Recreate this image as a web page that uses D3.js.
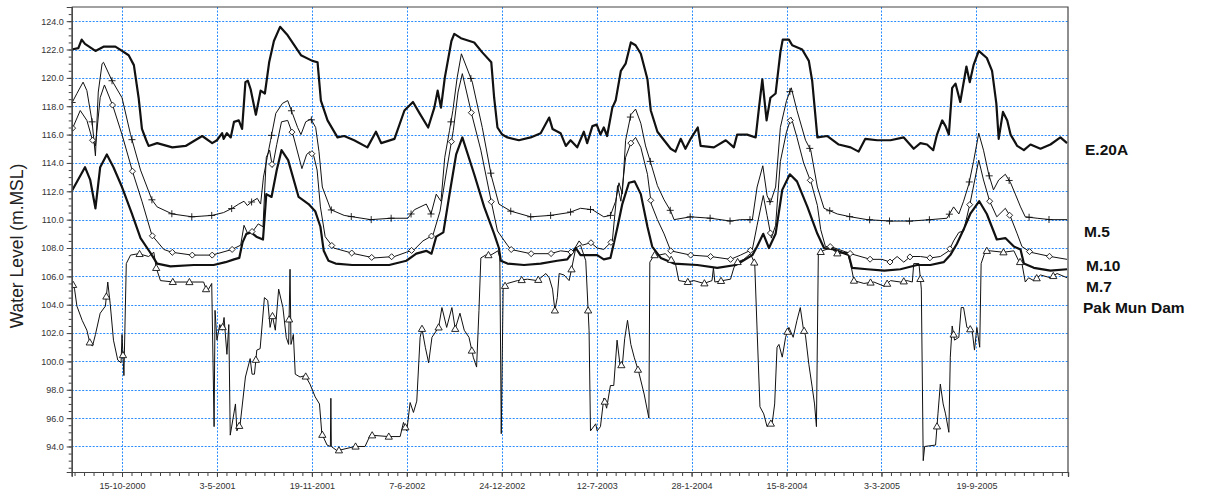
<!DOCTYPE html>
<html lang="en">
<head>
<meta charset="UTF-8">
<title>Water Level</title>
<style>
  body { margin: 0; background: #fff; }
  svg { display: block; }
  text { font-family: Arial, "Liberation Sans", Helvetica, sans-serif; }
</style>
</head>
<body>
<div id="chart"></div>
<script src="https://d3js.org/d3.v7.min.js"></script>
<script>
// ---- data ----
const xTickDates = ["2000-10-15", "2001-05-03", "2001-11-19", "2002-06-07", "2002-12-24",
  "2003-07-12", "2004-01-28", "2004-08-15", "2005-03-03", "2005-09-19"];
const yTickValues = [94, 96, 98, 100, 102, 104, 106, 108, 110, 112, 114, 116, 118, 120, 122, 124];
const stationNames = ["E.20A", "M.5", "M.10", "M.7", "Pak Mun Dam"];

const e20a = [
["2000-07-01",122.0],["2000-07-15",122.1],["2000-07-22",122.7],["2000-07-29",122.4],["2000-08-20",121.9],
["2000-09-06",122.2],["2000-10-01",122.2],["2000-10-15",121.9],["2000-10-29",121.6],["2000-11-09",120.9],
["2000-11-19",118.6],["2000-11-26",116.4],["2000-12-05",115.6],["2000-12-10",115.2],["2000-12-28",115.4],
["2001-01-29",115.1],["2001-02-26",115.2],["2001-04-02",115.9],["2001-04-23",115.4],["2001-05-03",115.6],
["2001-05-14",116.1],["2001-05-17",115.7],["2001-05-24",116.1],["2001-06-01",115.8],["2001-06-08",116.9],
["2001-06-18",117.0],["2001-06-25",116.4],["2001-07-02",119.7],["2001-07-07",119.8],["2001-07-13",119.2],
["2001-07-24",117.4],["2001-08-03",119.1],["2001-08-12",118.9],["2001-08-21",121.1],["2001-08-31",122.6],
["2001-09-13",123.6],["2001-09-29",123.0],["2001-10-27",121.6],["2001-11-20",121.2],["2001-12-01",121.1],
["2001-12-08",118.4],["2001-12-22",117.0],["2002-01-12",115.8],["2002-01-26",115.9],["2002-02-16",115.6],
["2002-03-16",115.1],["2002-04-03",116.2],["2002-04-14",115.4],["2002-05-12",115.7],["2002-06-02",117.7],
["2002-06-20",118.3],["2002-07-04",117.5],["2002-07-22",116.5],["2002-08-04",117.9],["2002-08-11",119.1],
["2002-08-18",117.9],["2002-08-26",120.0],["2002-09-09",122.6],["2002-09-15",123.1],["2002-09-29",122.8],
["2002-10-27",122.5],["2002-11-13",121.8],["2002-12-02",121.1],["2002-12-08",118.6],["2002-12-15",116.5],
["2002-12-25",116.0],["2003-01-05",115.8],["2003-01-29",115.6],["2003-02-23",115.8],["2003-03-16",116.1],
["2003-04-03",117.2],["2003-04-10",116.4],["2003-04-27",116.1],["2003-05-08",115.2],["2003-05-18",115.6],
["2003-06-01",115.1],["2003-06-15",116.2],["2003-06-22",115.4],["2003-07-03",116.6],["2003-07-12",116.7],
["2003-07-20",116.0],["2003-07-27",116.5],["2003-08-03",115.9],["2003-08-14",117.9],["2003-08-21",118.4],
["2003-09-01",120.5],["2003-09-11",121.0],["2003-09-22",122.5],["2003-10-02",122.3],["2003-10-13",121.7],
["2003-10-27",119.9],["2003-11-03",117.7],["2003-11-17",116.2],["2003-12-01",115.6],["2003-12-15",115.0],
["2003-12-25",114.8],["2004-01-05",115.7],["2004-01-15",115.0],["2004-01-26",115.7],["2004-02-10",116.5],
["2004-02-16",115.2],["2004-03-15",115.1],["2004-04-09",115.6],["2004-04-26",115.1],["2004-05-03",116.0],
["2004-05-24",116.0],["2004-06-11",115.8],["2004-06-18",117.9],["2004-06-25",119.9],["2004-07-04",117.0],
["2004-07-12",118.6],["2004-07-23",118.9],["2004-08-02",121.8],["2004-08-07",122.7],["2004-08-20",122.7],
["2004-08-27",122.3],["2004-09-17",122.0],["2004-10-01",121.2],["2004-10-08",119.8],["2004-10-19",115.8],
["2004-11-09",115.9],["2004-12-03",115.3],["2004-12-28",115.1],["2005-01-14",114.8],["2005-01-28",115.7],
["2005-02-22",115.6],["2005-03-22",115.6],["2005-04-19",115.8],["2005-05-10",115.0],["2005-05-24",115.4],
["2005-06-07",115.3],["2005-06-20",114.9],["2005-06-28",116.0],["2005-07-09",117.0],["2005-07-16",116.6],
["2005-07-23",116.0],["2005-07-30",119.3],["2005-08-06",119.6],["2005-08-16",118.3],["2005-08-29",120.8],
["2005-09-05",119.7],["2005-09-13",120.9],["2005-09-24",121.9],["2005-10-11",121.4],["2005-10-22",120.5],
["2005-10-31",118.2],["2005-11-05",115.7],["2005-11-14",117.6],["2005-11-23",117.0],["2005-11-30",116.0],
["2005-12-14",115.2],["2005-12-28",114.9],["2006-01-11",115.3],["2006-02-01",115.0],["2006-02-22",115.3],
["2006-03-15",115.8],["2006-03-29",115.4]
];

const m5 = [
["2000-07-01",118.2],["2000-07-12",118.9],["2000-07-25",119.7],["2000-08-02",119.1],["2000-08-13",116.9],
["2000-08-20",114.5],["2000-08-26",119.0],["2000-09-03",121.0],["2000-09-06",121.1],["2000-09-24",119.8],
["2000-10-15",118.6],["2000-11-02",116.0],["2000-11-23",113.5],["2000-12-17",111.4],["2000-12-28",110.9],
["2001-01-29",110.4],["2001-03-12",110.2],["2001-04-23",110.3],["2001-05-17",110.5],["2001-06-04",110.8],
["2001-06-18",111.1],["2001-06-29",111.3],["2001-07-06",111.0],["2001-07-17",111.3],["2001-07-27",111.5],
["2001-08-03",111.1],["2001-08-09",113.0],["2001-08-17",114.4],["2001-08-24",115.6],["2001-09-04",117.5],
["2001-09-18",118.2],["2001-09-29",118.4],["2001-10-09",117.5],["2001-10-20",116.5],["2001-10-27",116.0],
["2001-11-06",116.9],["2001-11-17",117.1],["2001-11-27",116.5],["2001-12-04",114.8],["2001-12-11",112.3],
["2001-12-29",110.7],["2002-01-26",110.3],["2002-02-13",110.2],["2002-03-23",110.0],["2002-05-05",110.1],
["2002-06-09",110.1],["2002-06-23",110.7],["2002-07-18",111.1],["2002-07-28",110.4],["2002-08-08",111.8],
["2002-08-18",111.3],["2002-08-26",114.4],["2002-09-05",116.3],["2002-09-12",117.7],["2002-09-21",120.0],
["2002-09-30",121.7],["2002-10-23",119.7],["2002-11-13",116.5],["2002-12-02",113.1],["2002-12-18",111.1],
["2003-01-12",110.6],["2003-02-23",110.2],["2003-04-06",110.3],["2003-05-15",110.5],["2003-06-08",110.8],
["2003-07-03",110.7],["2003-07-27",110.2],["2003-08-10",110.3],["2003-08-21",111.3],["2003-08-28",112.6],
["2003-09-04",111.8],["2003-09-11",115.6],["2003-09-22",117.4],["2003-10-02",117.8],["2003-10-13",116.8],
["2003-10-23",115.2],["2003-11-03",114.0],["2003-11-17",112.4],["2003-12-01",111.4],["2003-12-15",110.6],
["2003-12-22",110.0],["2004-01-26",110.2],["2004-03-08",110.1],["2004-04-19",109.9],["2004-05-10",110.0],
["2004-06-04",110.0],["2004-06-14",112.3],["2004-06-26",113.8],["2004-07-05",111.7],["2004-07-12",111.2],
["2004-07-23",112.3],["2004-08-02",116.5],["2004-08-15",118.4],["2004-08-25",119.3],["2004-09-06",117.7],
["2004-09-24",115.6],["2004-10-05",114.9],["2004-10-19",112.3],["2004-11-02",110.8],["2004-11-30",110.4],
["2004-12-28",110.2],["2005-02-01",110.0],["2005-03-22",109.9],["2005-05-03",109.9],["2005-06-14",110.0],
["2005-07-19",110.1],["2005-08-02",110.9],["2005-08-13",110.4],["2005-08-23",111.3],["2005-09-03",112.5],
["2005-09-13",114.1],["2005-09-24",116.1],["2005-10-04",114.9],["2005-10-15",113.2],["2005-10-25",112.1],
["2005-11-05",112.8],["2005-11-19",113.2],["2005-11-30",112.6],["2005-12-10",111.8],["2005-12-21",110.9],
["2005-12-31",110.2],["2006-01-25",110.1],["2006-02-22",110.0],["2006-03-29",110.0]
];

const m10 = [
["2000-07-01",116.3],["2000-07-19",117.7],["2000-08-02",117.0],["2000-08-14",115.6],["2000-08-20",115.2],
["2000-08-30",118.6],["2000-09-08",119.5],["2000-09-26",118.0],["2000-10-15",116.0],["2000-11-07",113.3],
["2000-11-26",111.3],["2000-12-17",108.9],["2001-01-11",107.9],["2001-01-28",107.7],["2001-03-12",107.5],
["2001-04-23",107.5],["2001-06-04",107.9],["2001-06-22",108.2],["2001-06-29",109.6],["2001-07-07",109.0],
["2001-07-18",109.2],["2001-07-29",109.7],["2001-08-08",109.5],["2001-08-15",114.4],["2001-08-22",114.9],
["2001-08-28",113.7],["2001-09-06",115.3],["2001-09-16",116.9],["2001-09-29",117.0],["2001-10-11",115.9],
["2001-10-29",113.6],["2001-11-08",114.6],["2001-11-15",114.8],["2001-11-23",114.5],["2001-11-30",113.5],
["2001-12-07",110.9],["2001-12-17",108.8],["2002-01-04",108.0],["2002-02-16",107.6],["2002-03-30",107.3],
["2002-05-12",107.4],["2002-06-06",107.7],["2002-06-23",107.9],["2002-07-11",108.5],["2002-08-01",108.9],
["2002-08-16",110.6],["2002-08-30",113.5],["2002-09-13",116.3],["2002-09-23",119.0],["2002-10-02",120.3],
["2002-10-22",117.4],["2002-11-10",114.9],["2002-12-03",111.1],["2002-12-15",109.2],["2003-01-05",108.2],
["2003-01-12",107.9],["2003-02-23",107.6],["2003-04-06",107.6],["2003-04-27",107.8],["2003-05-22",107.7],
["2003-06-05",108.5],["2003-06-12",108.2],["2003-06-22",108.3],["2003-06-29",108.4],["2003-07-13",108.0],
["2003-07-27",107.9],["2003-08-14",108.5],["2003-08-25",112.4],["2003-09-01",111.3],["2003-09-11",114.4],
["2003-09-22",115.4],["2003-10-02",115.8],["2003-10-13",115.1],["2003-10-27",113.2],["2003-11-04",111.1],
["2003-11-17",110.0],["2003-12-01",109.0],["2003-12-15",107.8],["2004-01-26",107.5],["2004-03-08",107.4],
["2004-04-19",107.2],["2004-05-10",107.5],["2004-06-04",107.9],["2004-06-14",109.6],["2004-06-27",111.7],
["2004-07-05",110.3],["2004-07-14",108.7],["2004-07-23",109.6],["2004-08-02",114.1],["2004-08-15",116.2],
["2004-08-25",117.2],["2004-09-06",115.8],["2004-09-20",114.0],["2004-10-06",112.6],["2004-10-19",111.0],
["2004-10-26",109.3],["2004-11-05",108.1],["2004-11-16",108.1],["2004-12-28",107.6],["2005-02-08",107.2],
["2005-03-04",107.2],["2005-03-22",107.0],["2005-04-05",107.4],["2005-04-19",107.0],["2005-05-03",107.4],
["2005-05-24",107.4],["2005-06-14",107.3],["2005-07-05",107.4],["2005-07-23",107.8],["2005-08-02",108.5],
["2005-08-13",109.1],["2005-08-23",109.2],["2005-09-06",111.2],["2005-09-24",114.2],["2005-10-04",112.8],
["2005-10-17",111.3],["2005-11-01",110.2],["2005-11-19",110.8],["2005-11-30",110.2],["2005-12-14",109.0],
["2005-12-24",108.1],["2006-01-11",107.7],["2006-02-22",107.4],["2006-03-29",107.2]
];

const m7 = [
["2000-07-01",112.0],["2000-07-29",113.7],["2000-08-09",112.8],["2000-08-20",110.8],["2000-08-30",113.7],
["2000-09-13",114.6],["2000-09-27",113.7],["2000-10-15",112.3],["2000-11-05",110.4],["2000-11-23",108.7],
["2000-12-13",107.7],["2000-12-28",106.9],["2001-01-25",106.7],["2001-03-15",106.8],["2001-04-26",106.8],
["2001-05-21",107.0],["2001-06-08",107.2],["2001-06-19",107.3],["2001-06-26",108.4],["2001-07-04",109.0],
["2001-07-14",109.1],["2001-07-25",108.8],["2001-08-08",108.6],["2001-08-15",111.8],["2001-08-26",111.6],
["2001-09-06",113.5],["2001-09-16",114.9],["2001-09-30",114.2],["2001-10-22",111.6],["2001-11-12",111.1],
["2001-11-26",110.6],["2001-12-07",109.5],["2001-12-14",107.8],["2001-12-24",107.1],["2002-01-08",106.9],
["2002-02-12",106.8],["2002-03-20",106.8],["2002-05-01",106.8],["2002-06-06",107.1],["2002-06-27",107.6],
["2002-07-18",107.8],["2002-07-29",107.6],["2002-08-08",108.8],["2002-08-23",109.1],["2002-09-06",112.0],
["2002-09-19",114.6],["2002-10-02",115.8],["2002-10-27",113.2],["2002-11-17",110.9],["2002-12-08",109.0],
["2002-12-18",108.0],["2002-12-22",107.1],["2003-01-05",106.9],["2003-02-09",106.8],["2003-03-16",106.9],
["2003-04-20",107.1],["2003-05-11",107.2],["2003-05-29",108.0],["2003-06-08",107.5],["2003-06-22",107.5],
["2003-07-13",107.5],["2003-07-27",107.2],["2003-08-10",107.3],["2003-08-17",108.3],["2003-08-25",109.5],
["2003-09-04",111.1],["2003-09-18",112.6],["2003-09-30",112.7],["2003-10-13",111.8],["2003-10-27",109.5],
["2003-11-06",108.1],["2003-11-24",107.3],["2003-12-22",106.9],["2004-02-09",106.8],["2004-03-22",106.6],
["2004-04-30",106.8],["2004-05-10",107.0],["2004-06-04",107.5],["2004-06-14",108.1],["2004-06-27",109.0],
["2004-07-09",108.0],["2004-07-23",109.0],["2004-08-06",112.1],["2004-08-22",113.2],["2004-09-06",112.7],
["2004-09-28",110.9],["2004-10-19",109.0],["2004-11-02",108.0],["2004-11-23",107.9],["2004-12-24",107.5],
["2004-12-31",106.6],["2005-02-01",106.5],["2005-03-09",106.4],["2005-04-12",106.5],["2005-05-17",106.8],
["2005-06-14",106.8],["2005-07-12",107.0],["2005-07-26",107.5],["2005-08-09",108.3],["2005-08-23",109.3],
["2005-09-06",110.4],["2005-09-25",111.3],["2005-10-11",110.4],["2005-11-01",108.6],["2005-11-19",108.7],
["2005-12-07",108.1],["2005-12-21",107.9],["2005-12-28",106.9],["2006-01-18",106.6],["2006-02-22",106.4],
["2006-03-29",106.5]
];

const pakMun = [
["2000-07-02",105.6],["2000-07-07",105.1],["2000-07-12",103.9],["2000-07-23",102.9],["2000-08-02",102.2],
["2000-08-09",101.2],["2000-08-14",101.1],["2000-08-20",101.9],["2000-08-30",103.4],["2000-09-10",103.9],
["2000-09-15",105.6],["2000-09-20",104.1],["2000-09-27",101.5],["2000-10-06",100.1],["2000-10-13",99.9],
["2000-10-15",101.9],["2000-10-19",99.0],["2000-10-24",106.9],["2000-11-02",107.5],["2000-11-19",107.6],
["2000-12-10",107.4],["2000-12-21",107.7],["2000-12-26",106.6],["2001-01-04",105.7],["2001-02-01",105.6],
["2001-03-04",105.6],["2001-04-05",105.6],["2001-04-12",104.9],["2001-04-22",105.5],["2001-04-27",95.4],
["2001-04-29",103.6],["2001-05-03",101.5],["2001-05-09",102.6],["2001-05-14",102.2],["2001-05-18",103.1],
["2001-05-24",100.5],["2001-05-28",102.6],["2001-05-31",94.8],["2001-06-11",97.0],["2001-06-14",95.1],
["2001-06-21",95.6],["2001-07-02",98.9],["2001-07-12",100.2],["2001-07-16",99.1],["2001-07-21",99.1],
["2001-07-26",100.8],["2001-08-02",100.9],["2001-08-11",104.5],["2001-08-18",104.3],["2001-08-23",102.4],
["2001-08-28",103.2],["2001-09-03",102.2],["2001-09-10",105.1],["2001-09-19",103.8],["2001-09-26",101.7],
["2001-10-01",101.2],["2001-10-04",106.5],["2001-10-06",101.2],["2001-10-11",101.9],["2001-10-15",99.1],
["2001-10-25",98.9],["2001-11-05",99.0],["2001-11-15",98.4],["2001-11-26",97.5],["2001-12-05",97.0],
["2001-12-10",94.9],["2001-12-21",94.1],["2001-12-28",94.0],["2001-12-29",97.4],["2001-12-30",94.0],
["2002-01-11",93.7],["2002-02-18",94.0],["2002-03-11",94.0],["2002-03-22",94.8],["2002-04-29",94.7],
["2002-05-24",94.7],["2002-05-31",95.7],["2002-06-07",95.1],["2002-06-14",97.1],["2002-06-21",96.4],
["2002-06-28",97.2],["2002-07-05",101.7],["2002-07-09",102.3],["2002-07-16",101.0],["2002-07-23",99.9],
["2002-07-30",101.7],["2002-08-13",102.4],["2002-08-20",103.8],["2002-08-30",102.4],["2002-09-10",103.8],
["2002-09-17",102.3],["2002-09-27",103.4],["2002-10-06",102.2],["2002-10-16",101.7],["2002-10-25",100.3],
["2002-11-01",99.6],["2002-11-06",103.6],["2002-11-10",107.3],["2002-11-20",107.5],["2002-12-01",107.5],
["2002-12-16",107.8],["2002-12-20",107.3],["2002-12-23",94.9],["2002-12-27",105.2],["2003-01-05",105.5],
["2003-01-26",105.7],["2003-02-16",105.8],["2003-03-09",105.7],["2003-03-27",106.2],["2003-04-03",105.9],
["2003-04-10",105.1],["2003-04-15",103.6],["2003-04-20",104.5],["2003-04-24",106.2],["2003-05-04",106.1],
["2003-05-15",105.7],["2003-05-20",106.5],["2003-05-29",108.0],["2003-06-08",108.2],["2003-06-19",107.1],
["2003-06-26",102.2],["2003-06-29",95.1],["2003-07-10",95.6],["2003-07-13",95.1],["2003-07-20",95.4],
["2003-07-27",97.4],["2003-08-02",96.7],["2003-08-10",98.3],["2003-08-17",98.3],["2003-08-24",101.5],
["2003-08-30",99.8],["2003-09-04",99.7],["2003-09-09",101.6],["2003-09-15",102.9],["2003-09-22",101.2],
["2003-09-29",100.3],["2003-10-09",99.2],["2003-10-20",97.7],["2003-10-30",96.0],["2003-11-01",107.0],
["2003-11-10",107.5],["2003-11-20",107.5],["2003-12-04",107.6],["2003-12-15",107.2],["2003-12-25",106.9],
["2004-01-01",105.7],["2004-01-19",105.6],["2004-02-02",105.7],["2004-02-23",105.5],["2004-03-11",105.7],
["2004-03-14",106.6],["2004-03-17",105.6],["2004-04-02",105.7],["2004-04-19",105.8],["2004-04-26",106.6],
["2004-05-03",107.0],["2004-05-17",107.2],["2004-05-31",107.6],["2004-06-09",106.9],["2004-06-14",102.2],
["2004-06-20",96.8],["2004-06-28",96.3],["2004-07-05",95.4],["2004-07-16",95.7],["2004-07-21",97.0],
["2004-07-26",101.0],["2004-07-30",101.2],["2004-08-06",100.3],["2004-08-13",101.7],["2004-08-20",102.4],
["2004-08-29",101.7],["2004-09-06",102.9],["2004-09-13",103.8],["2004-09-19",102.4],["2004-09-24",101.8],
["2004-10-01",99.8],["2004-10-08",98.2],["2004-10-13",97.0],["2004-10-17",95.4],["2004-10-21",107.6],
["2004-10-29",107.8],["2004-11-16",108.0],["2004-12-01",107.6],["2004-12-21",107.7],["2004-12-28",106.9],
["2005-01-04",105.7],["2005-01-25",105.5],["2005-02-15",105.6],["2005-03-09",105.3],["2005-03-22",105.7],
["2005-04-12",105.6],["2005-04-26",105.7],["2005-05-07",105.6],["2005-05-10",106.9],["2005-05-21",106.9],
["2005-05-26",105.1],["2005-05-30",93.0],["2005-06-02",94.0],["2005-06-25",94.1],["2005-06-30",96.3],
["2005-07-05",98.4],["2005-07-11",97.0],["2005-07-16",96.3],["2005-07-23",95.0],["2005-07-26",100.3],
["2005-07-30",102.5],["2005-08-04",101.5],["2005-08-13",101.7],["2005-08-18",103.8],["2005-08-23",103.8],
["2005-08-30",102.4],["2005-09-10",102.2],["2005-09-15",100.8],["2005-09-20",102.4],["2005-09-26",101.0],
["2005-09-29",106.9],["2005-10-08",107.8],["2005-10-18",107.8],["2005-11-15",107.7],["2005-12-07",107.8],
["2005-12-17",107.1],["2005-12-24",106.9],["2005-12-31",105.6],["2006-01-07",105.9],["2006-01-18",105.7],
["2006-02-01",106.1],["2006-02-22",105.9],["2006-03-08",106.2],["2006-03-29",105.9]
];

// ---- drawing ----
const W = 1212, H = 491;
const plot = { left: 71.7, right: 1068, top: 7, bottom: 472 };
const parse = d3.utcParse("%Y-%m-%d");
const toRows = arr => arr.map(d => ({ date: parse(d[0]), value: d[1] }));

const startDate = parse("2000-07-01");
const endDate = parse("2006-03-31");

const x = d3.scaleUtc().domain([startDate, endDate]).range([plot.left, plot.right]);
const y = d3.scaleLinear().domain([92.2, 125]).range([plot.bottom, plot.top]);

const svg = d3.select("#chart").append("svg")
  .attr("width", W).attr("height", H);

// grid
const grid = svg.append("g")
  .attr("stroke", "#2a8cff")
  .attr("stroke-width", 1)
  .attr("stroke-dasharray", "2,1.5");
grid.selectAll("line.h").data(yTickValues).join("line")
  .attr("class", "h")
  .attr("x1", plot.left).attr("x2", plot.right)
  .attr("y1", d => Math.round(y(d)) + 0.5).attr("y2", d => Math.round(y(d)) + 0.5);
grid.selectAll("line.v").data(xTickDates.map(parse)).join("line")
  .attr("class", "v")
  .attr("y1", plot.top).attr("y2", plot.bottom)
  .attr("x1", d => Math.round(x(d)) + 0.5).attr("x2", d => Math.round(x(d)) + 0.5);

// series
const series = [
  { name: stationNames[0], rows: toRows(e20a), width: 2.2 },
  { name: stationNames[1], rows: toRows(m5), width: 1, marker: "plus", first: 1, step: 42 },
  { name: stationNames[2], rows: toRows(m10), width: 1, marker: "diamond", first: 2, step: 42 },
  { name: stationNames[3], rows: toRows(m7), width: 2.2 },
  { name: stationNames[4], rows: toRows(pakMun), width: 1, marker: "triangle", first: 3, step: 35 }
];

svg.append("clipPath").attr("id", "plotClip")
  .append("rect")
  .attr("x", plot.left).attr("y", plot.top)
  .attr("width", plot.right - plot.left).attr("height", plot.bottom - plot.top);

const line = d3.line().x(d => x(d.date)).y(d => y(d.value));
const lines = svg.append("g").attr("clip-path", "url(#plotClip)");

lines.selectAll("path.series").data(series).join("path")
  .attr("class", "series")
  .attr("fill", "none")
  .attr("stroke", "#111")
  .attr("stroke-width", d => d.width)
  .attr("stroke-linejoin", "round")
  .attr("d", d => line(d.rows));

// markers placed along each line at a fixed day interval
const bis = d3.bisector(d => d.date).left;
function valueAt(rows, t) {
  const i = bis(rows, t);
  if (i <= 0) return rows[0].value;
  if (i >= rows.length) return rows[rows.length - 1].value;
  const a = rows[i - 1], b = rows[i];
  return a.value + (t - a.date) / (b.date - a.date) * (b.value - a.value);
}
const shapes = {
  plus: "M-3.5,0H3.5M0,-3.5V3.5",
  diamond: "M0,-3L3,0L0,3L-3,0Z",
  triangle: "M0,-3.6L3.6,2.6L-3.6,2.6Z"
};
series.filter(s => s.marker).forEach(s => {
  const pts = [];
  for (let t = d3.utcDay.offset(startDate, s.first); t <= endDate; t = d3.utcDay.offset(t, s.step)) {
    pts.push({ date: t, value: valueAt(s.rows, t) });
  }
  lines.append("g").selectAll("path").data(pts).join("path")
    .attr("transform", d => `translate(${x(d.date)},${y(d.value)})`)
    .attr("d", shapes[s.marker])
    .attr("fill", s.marker === "plus" ? "none" : "#fff")
    .attr("stroke", "#111")
    .attr("stroke-width", 0.9);
});

// axes
const axisColor = "#444";
function styleAxis(g) {
  g.select(".domain").attr("stroke", axisColor).attr("stroke-width", 1.2);
  g.selectAll(".tick line").attr("stroke", axisColor);
  g.selectAll(".tick text").attr("fill", "#333").attr("font-size", 9)
    .attr("font-family", "Arial, 'Liberation Sans', sans-serif");
}

const yMinor = d3.range(92.5, 125.01, 0.5);
svg.append("g").attr("transform", `translate(${plot.left},0)`)
  .call(d3.axisLeft(y).tickValues(yMinor).tickSize(3).tickFormat(""))
  .call(styleAxis);
svg.append("g").attr("transform", `translate(${plot.left},0)`)
  .call(d3.axisLeft(y).tickValues(yTickValues).tickSize(5).tickPadding(3).tickFormat(d3.format(".1f")))
  .call(styleAxis);

const firstTick = parse(xTickDates[0]);
const xMinor = d3.range(-5, 100).map(k => d3.utcDay.offset(firstTick, k * 20))
  .filter(d => d >= startDate && d <= endDate);
svg.append("g").attr("transform", `translate(0,${plot.bottom})`)
  .call(d3.axisBottom(x).tickValues(xMinor).tickSize(4).tickFormat(""))
  .call(styleAxis);
svg.append("g").attr("transform", `translate(0,${plot.bottom})`)
  .call(d3.axisBottom(x).tickValues(xTickDates.map(parse)).tickSize(5).tickPadding(6)
    .tickFormat(d3.utcFormat("%-d-%-m-%Y")))
  .call(styleAxis);

// top and right frame
svg.append("path")
  .attr("d", `M${plot.left},${plot.top}H${plot.right}V${plot.bottom}`)
  .attr("fill", "none").attr("stroke", axisColor).attr("stroke-width", 1.2);

// y title
svg.append("text")
  .attr("transform", "translate(23,246) rotate(-90)")
  .attr("text-anchor", "middle")
  .attr("font-size", 17.5)
  .attr("fill", "#222")
  .text("Water Level (m.MSL)");

// station labels at the right
const labelPos = [[1085, 155], [1084, 237], [1086, 271], [1086, 292], [1083, 313]];
svg.append("g").selectAll("text").data(stationNames).join("text")
  .attr("x", (d, i) => labelPos[i][0])
  .attr("y", (d, i) => labelPos[i][1])
  .attr("font-size", 15.5)
  .attr("font-weight", "bold")
  .attr("fill", "#111")
  .text(d => d);
</script>
</body>
</html>
